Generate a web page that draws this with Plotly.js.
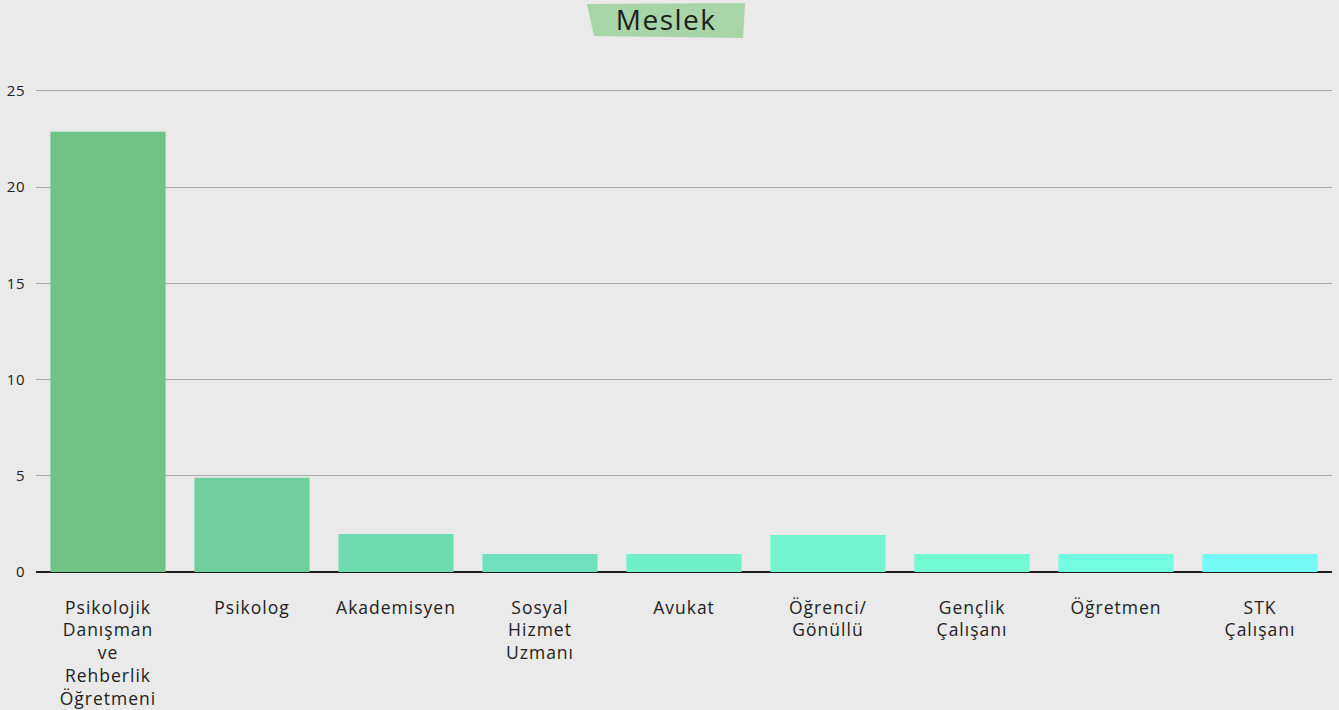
<!DOCTYPE html>
<html>
<head>
<meta charset="utf-8">
<script src="https://cdn.plot.ly/plotly-3.0.1.min.js"></script>
<style>
html,body{margin:0;padding:0;background:#e9eae9;}
#chart{width:1339px;height:710px;}
#chart .xtick text{letter-spacing:1px;}
#chart .gtitle{letter-spacing:1.5px;}
#chart .ytick text{letter-spacing:0.5px;}
</style>
</head>
<body>
<div id="chart"></div>
<script>
const categories = ["Psikolojik<br>Danışman<br>ve<br>Rehberlik<br>Öğretmeni", "Psikolog", "Akademisyen", "Sosyal<br>Hizmet<br>Uzmanı", "Avukat", "Öğrenci/<br>Gönüllü", "Gençlik<br>Çalışanı", "Öğretmen", "STK<br>Çalışanı"];
const values = [22.87, 4.9, 1.97, 0.94, 0.94, 1.92, 0.94, 0.94, 0.94];
const barColors = ["#6fc387", "#70d09d", "#70dcb1", "#6ee2bf", "#70f0c9", "#72f5cf", "#72fad3", "#73fde0", "#74fbf6"];
const yTicks = [0, 5, 10, 15, 20, 25];

const trace = {
  type: 'bar',
  x: categories,
  y: values,
  marker: {color: barColors},
  hoverinfo: 'none'
};

const layout = {
  width: 1339, height: 710,
  paper_bgcolor: '#e9eae9',
  plot_bgcolor: '#e9eae9',
  margin: {l: 36, r: 7, t: 87, b: 138},
  bargap: 0.2,
  showlegend: false,
  font: {family: '"Open Sans", sans-serif', color: '#222222'},
  title: {
    text: 'Meslek',
    font: {size: 28, color: '#1e1e1e', family: '"Open Sans", sans-serif'},
    xref: 'container', x: 0.4975, xanchor: 'center',
    yref: 'container', y: 0.972, yanchor: 'middle'
  },
  xaxis: {
    tickfont: {size: 17.5, color: '#222222'},
    ticks: '',
    ticklabelstandoff: 23,
    showgrid: false,
    showline: false,
    zeroline: false,
    fixedrange: true
  },
  yaxis: {
    range: [0, 25.2],
    tickvals: yTicks,
    tickfont: {size: 15, color: '#222222'},
    ticks: '',
    ticklabelstandoff: 10,
    showgrid: true,
    gridcolor: '#a8aaa9',
    gridwidth: 1,
    zeroline: true,
    zerolinecolor: '#1e1e1e',
    zerolinewidth: 1.5,
    showline: false,
    fixedrange: true
  },
  shapes: [{
    type: 'path',
    xref: 'paper', yref: 'paper',
    path: 'M 0.4251 1.1711 L 0.5471 1.1732 L 0.5456 1.1010 L 0.4305 1.1052 Z',
    fillcolor: '#a8d5a8',
    line: {width: 0},
    layer: 'below'
  }]
};

Plotly.newPlot('chart', [trace], layout, {displayModeBar: false, staticPlot: true});
</script>
</body>
</html>
